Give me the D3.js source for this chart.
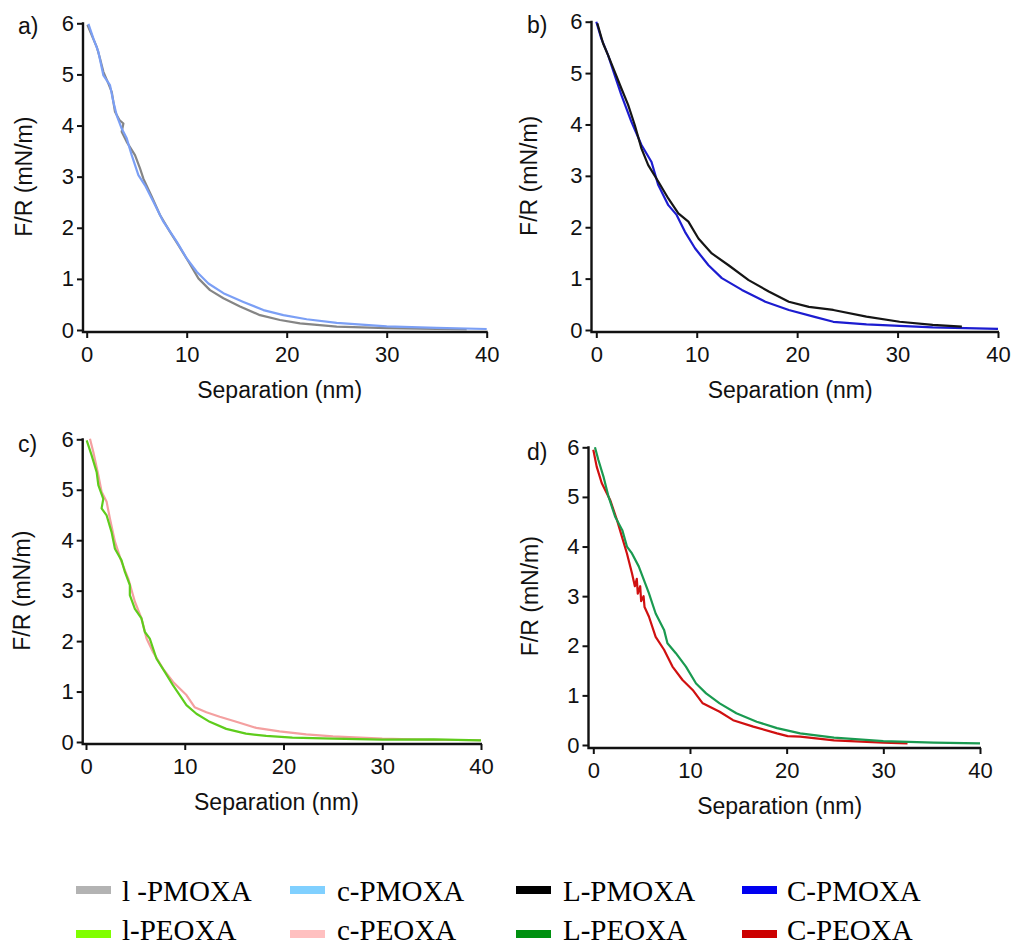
<!DOCTYPE html>
<html><head><meta charset="utf-8">
<script src="https://cdn.jsdelivr.net/npm/d3@7"></script>
<style>body{margin:0;background:#fff}svg{display:block}</style>
</head><body><svg id="chart" width="1014" height="947"></svg>
<script>
// ---------- data ----------
const xTicks = [0, 10, 20, 30, 40];
const yTicks = [0, 1, 2, 3, 4, 5, 6];
const panelLabels = ["a)", "b)", "c)", "d)"];
const xTitle = "Separation (nm)";
const yTitle = "F/R (mN/m)";
const legendLabels = ["l -PMOXA", "c-PMOXA", "L-PMOXA", "C-PMOXA", "l-PEOXA", "c-PEOXA", "L-PEOXA", "C-PEOXA"];
const legendColors = ["#b3b3b3", "#80d0ff", "#000000", "#0000f0", "#80ff00", "#ffc0c0", "#009010", "#cc0000"];

// [separation nm, F/R mN/m]
const lPMOXA = [[0.07,5.97],[0.5,5.77],[1.0,5.54],[1.33,5.31],[1.67,5.05],[2.17,4.82],[2.5,4.66],[2.83,4.27],[3.3,4.1],[3.67,4.04],[3.5,3.88],[4.0,3.68],[4.83,3.42],[5.33,3.16],[5.67,2.96],[6.5,2.61],[7.33,2.25],[8.33,1.92],[9.17,1.66],[10.17,1.34],[11.17,1.01],[12.33,0.78],[13.67,0.62],[15.33,0.46],[17.33,0.29],[19.33,0.195],[21.33,0.13],[25,0.065],[30,0.035],[35,0.02],[38,0.012]];
const cPMOXA = [[0.17,5.99],[0.67,5.70],[1.17,5.44],[1.67,4.98],[2.33,4.79],[2.67,4.46],[3.0,4.20],[3.5,3.94],[4.0,3.75],[4.5,3.42],[5.17,3.03],[5.83,2.83],[6.67,2.51],[7.67,2.12],[9.0,1.73],[10.0,1.40],[11.0,1.14],[12.17,0.91],[13.67,0.72],[15.67,0.55],[17.67,0.39],[19.67,0.29],[22.0,0.21],[25,0.14],[30,0.07],[35,0.04],[40,0.02]];
const LPMOXA = [[0.1,5.97],[0.67,5.58],[1.17,5.35],[1.83,5.03],[2.5,4.70],[3.17,4.38],[3.83,3.99],[4.5,3.53],[5.17,3.21],[6.17,2.89],[7.17,2.56],[8.17,2.27],[9.17,2.11],[10.17,1.78],[11.5,1.49],[13.17,1.26],[15.17,0.97],[17.17,0.75],[19.17,0.55],[21.17,0.45],[23.6,0.39],[26.9,0.26],[30.2,0.16],[33.5,0.1],[36.4,0.065]];
const CPMOXA = [[0,6.0],[0.5,5.67],[1.17,5.35],[1.83,4.96],[2.5,4.57],[3.5,4.05],[4.5,3.60],[5.5,3.27],[6.17,2.82],[7.17,2.43],[8.0,2.24],[8.83,1.91],[9.83,1.59],[11.17,1.26],[12.5,1.01],[14.5,0.78],[16.83,0.55],[19.17,0.39],[21.83,0.25],[23.6,0.16],[26.9,0.11],[30.2,0.08],[33.5,0.05],[40,0.02]];
const lPEOXA = [[0.07,5.98],[0.57,5.68],[1.08,5.35],[1.25,5.09],[1.75,4.82],[1.58,4.63],[2.09,4.49],[2.59,4.16],[2.93,3.83],[3.6,3.60],[3.94,3.37],[4.44,3.11],[4.44,2.91],[4.95,2.64],[5.62,2.45],[5.96,2.18],[6.46,2.05],[7.14,1.65],[7.98,1.39],[8.82,1.12],[9.49,0.93],[10.17,0.73],[11.18,0.56],[12.53,0.40],[14.2,0.26],[16.2,0.165],[18.25,0.12],[20.9,0.086],[25,0.066],[30,0.046],[35.2,0.053],[40,0.033]];
const cPEOXA = [[0.4,6.01],[0.74,5.75],[1.25,5.29],[1.58,4.96],[2.09,4.76],[2.42,4.43],[2.93,3.97],[3.6,3.57],[4.28,3.24],[4.95,2.78],[5.62,2.45],[6.13,2.05],[6.8,1.78],[7.81,1.45],[8.82,1.19],[9.49,1.06],[10.17,0.93],[11.0,0.69],[12.19,0.59],[13.54,0.50],[15.22,0.40],[17.24,0.28],[19.6,0.21],[22.3,0.15],[25,0.11],[30,0.066],[35,0.045],[40,0.035]];
const LPEOXA = [[0.17,6.0],[0.52,5.75],[1.05,5.41],[1.57,5.01],[2.26,4.60],[3.0,4.33],[3.48,4.0],[4.0,3.86],[4.7,3.60],[5.23,3.33],[5.75,3.06],[6.45,2.65],[7.32,2.32],[7.67,2.05],[8.54,1.85],[9.58,1.58],[10.63,1.24],[11.67,1.04],[13.07,0.84],[14.8,0.64],[16.9,0.47],[19.0,0.34],[21.4,0.235],[24.9,0.15],[30,0.08],[35.2,0.047],[40,0.033]];
const CPEOXA = [[0,5.95],[0.35,5.61],[0.87,5.28],[1.74,4.94],[2.44,4.54],[2.96,4.20],[3.48,3.86],[4.0,3.46],[4.3,3.2],[4.5,3.35],[4.6,3.05],[4.85,3.2],[4.95,2.9],[5.2,3.0],[5.3,2.78],[5.75,2.59],[6.45,2.18],[7.32,1.92],[8.19,1.58],[9.23,1.31],[10.28,1.11],[11.32,0.84],[13.07,0.67],[14.46,0.50],[16.55,0.37],[19.0,0.235],[20.1,0.18],[21.4,0.17],[24.9,0.094],[30,0.047],[32.5,0.033]];

// ---------- layout ----------
const panels = [
  {label: panelLabels[0], x0: 86.7, x1: 486.7, y0: 330, y6: 23.3, ax: 83, ay: 332, lx: 18, ly: 34, tx: 32,
   series: [{d: lPMOXA, c: "#858585"}, {d: cPMOXA, c: "#7b9ff5"}]},
  {label: panelLabels[1], x0: 596.3, x1: 998, y0: 330, y6: 21.7, ax: 591.5, ay: 332, lx: 527, ly: 33, tx: 537,
   series: [{d: CPMOXA, c: "#1c1cd0"}, {d: LPMOXA, c: "#151515"}]},
  {label: panelLabels[2], x0: 86, x1: 481, y0: 742, y6: 439.3, ax: 82.7, ay: 744, lx: 18, ly: 452, tx: 30,
   series: [{d: cPEOXA, c: "#f4a0a0"}, {d: lPEOXA, c: "#5ecc1c"}]},
  {label: panelLabels[3], x0: 593.3, x1: 980, y0: 745, y6: 447.3, ax: 588.5, ay: 748, lx: 527, ly: 460, tx: 538,
   series: [{d: CPEOXA, c: "#d01010"}, {d: LPEOXA, c: "#1a9a50"}]}
];

const svg = d3.select("#chart");
const sans = "'Liberation Sans', Arial, sans-serif";
const serif = "'Liberation Serif', 'Times New Roman', serif";

panels.forEach(p => {
  const x = d3.scaleLinear().domain([0, 40]).range([p.x0, p.x1]);
  const y = d3.scaleLinear().domain([0, 6]).range([p.y0, p.y6]);
  const g = svg.append("g");

  const ya = g.append("g").attr("transform", `translate(${p.ax},0)`)
    .call(d3.axisLeft(y).tickValues(yTicks).tickSize(6).tickPadding(3).tickFormat(d3.format("d")));
  const xa = g.append("g").attr("transform", `translate(0,${p.ay})`)
    .call(d3.axisBottom(x).tickValues(xTicks).tickSize(6).tickPadding(8).tickFormat(d3.format("d")));
  [ya, xa].forEach(a => {
    a.select(".domain").remove();
    a.selectAll(".tick line").attr("stroke", "#111").attr("stroke-width", 2);
    a.selectAll(".tick text").attr("fill", "#111").style("font-family", sans).style("font-size", "22px");
  });
  g.append("path")
    .attr("d", `M${p.ax},${y(6) - 1}V${p.ay}H${x(40) + 1}`)
    .attr("fill", "none").attr("stroke", "#111").attr("stroke-width", 2.4);

  const line = d3.line().x(d => x(d[0])).y(d => y(d[1]));
  p.series.forEach(s => {
    g.append("path").datum(s.d).attr("d", line)
      .attr("fill", "none").attr("stroke", s.c).attr("stroke-width", 2.2)
      .attr("stroke-linejoin", "round");
  });

  g.append("text").attr("x", x(20) - 7).attr("y", p.ay + 66)
    .attr("text-anchor", "middle").attr("fill", "#111")
    .style("font-family", sans).style("font-size", "23px").text(xTitle);
  g.append("text").attr("transform", `translate(${p.tx},${(y(0) + y(6)) / 2}) rotate(-90)`)
    .attr("text-anchor", "middle").attr("fill", "#111")
    .style("font-family", sans).style("font-size", "23px").text(yTitle);
  g.append("text").attr("x", p.lx).attr("y", p.ly).attr("fill", "#111")
    .style("font-family", sans).style("font-size", "23px").text(p.label);
});

// ---------- legend ----------
const colSwatchX = [76, 290, 516, 742];
const colTextX = [122, 337, 563, 787];
const rowSwatchY = [886, 930];
const rowTextY = [901, 940];
const lg = svg.append("g");
legendLabels.forEach((lab, i) => {
  const col = i % 4, row = Math.floor(i / 4);
  lg.append("rect").attr("x", colSwatchX[col]).attr("y", rowSwatchY[row])
    .attr("width", 35).attr("height", 8).attr("fill", legendColors[i]);
  lg.append("text").attr("x", colTextX[col]).attr("y", rowTextY[row]).attr("fill", "#000")
    .style("font-family", serif).style("font-size", "29px").text(lab);
});
</script>
</body></html>
